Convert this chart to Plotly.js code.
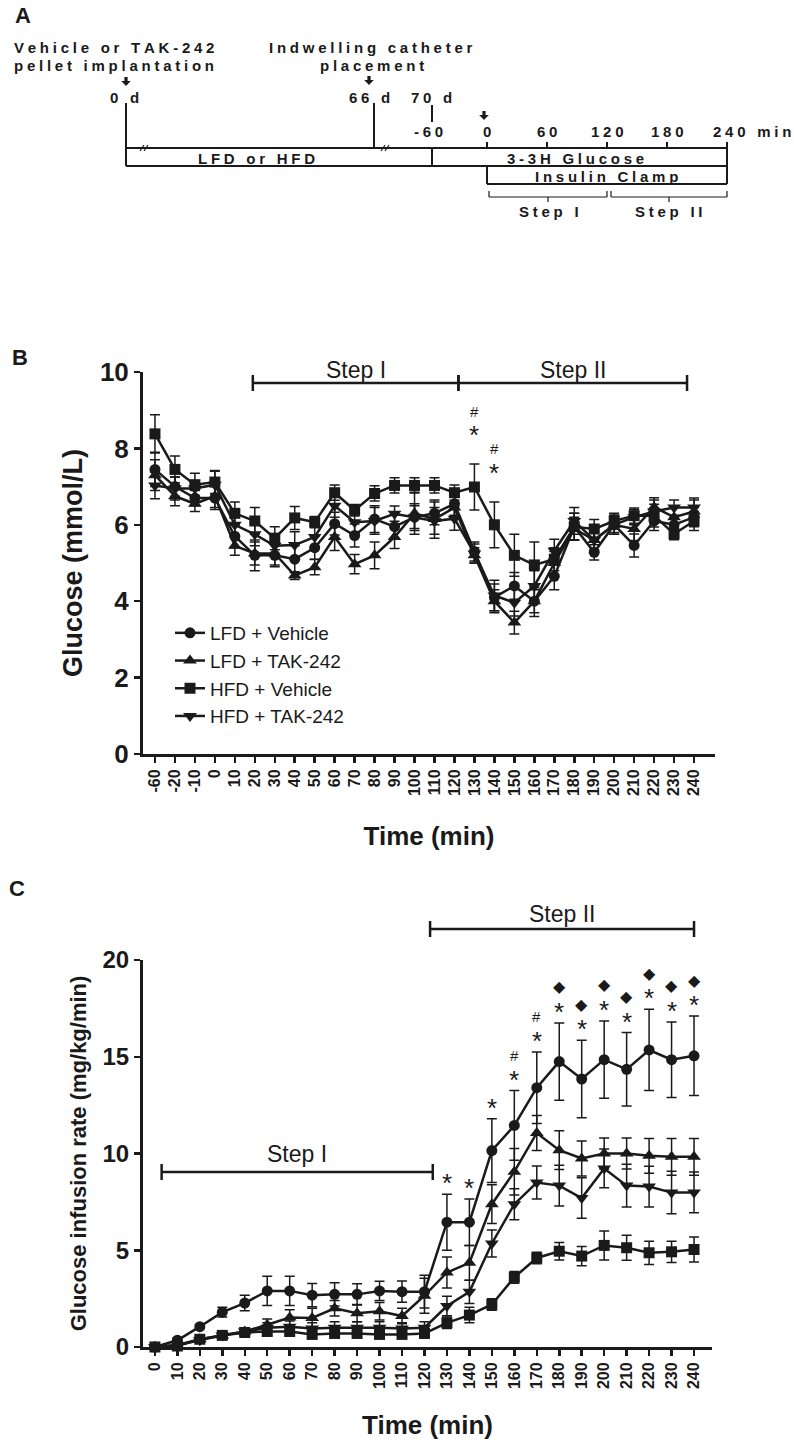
<!DOCTYPE html>
<html>
<head>
<meta charset="utf-8">
<script src="https://cdn.plot.ly/plotly-3.0.1.min.js"></script>
<style>
  body { margin: 0; background: #fff; }
  #chart { width: 794px; height: 1447px; }
</style>
</head>
<body>
<div id="chart"></div>
<script>
const W = 794, H = 1447;

// panel B - glucose (mmol/L)
const timeB = ['-60','-20','-10','0','10','20','30','40','50','60','70','80','90','100','110','120','130','140','150','160','170','180','190','200','210','220','230','240'];
const lfdVehB    = [7.45,7.0,6.7,6.7,5.7,5.2,5.2,5.1,5.4,6.03,5.72,6.15,5.95,6.2,6.3,6.55,5.3,4.1,4.4,4.0,4.65,5.95,5.28,6.0,5.46,6.1,6.0,6.2];
const lfdVehBErr = [0.45,0.25,0.2,0.3,0.3,0.4,0.3,0.35,0.3,0.3,0.3,0.35,0.3,0.35,0.3,0.3,0.25,0.35,0.35,0.4,0.35,0.35,0.2,0.25,0.3,0.25,0.2,0.25];
const lfdTakB    = [7.3,6.75,6.55,6.75,5.45,5.25,5.25,4.67,4.89,5.68,4.97,5.2,5.68,6.3,6.15,6.45,5.2,4.0,3.44,4.0,5.0,5.9,5.6,6.0,5.89,6.46,6.2,6.35];
const lfdTakBErr = [0.4,0.25,0.2,0.3,0.25,0.3,0.3,0.1,0.2,0.35,0.25,0.35,0.3,0.55,0.5,0.3,0.2,0.3,0.3,0.3,0.3,0.3,0.3,0.2,0.3,0.25,0.25,0.3];
const hfdVehB    = [8.38,7.45,7.05,7.12,6.3,6.1,5.65,6.18,6.07,6.84,6.38,6.82,7.03,7.03,7.03,6.84,6.99,6.0,5.2,4.95,5.1,5.95,5.89,6.1,6.24,6.24,5.76,6.1];
const hfdVehBErr = [0.5,0.35,0.3,0.3,0.3,0.35,0.3,0.3,0.15,0.2,0.15,0.2,0.2,0.2,0.2,0.2,0.6,0.6,0.55,0.6,0.3,0.35,0.25,0.2,0.2,0.3,0.15,0.25];
const hfdTakB    = [7.03,6.95,6.95,7.05,6.0,5.75,5.45,5.47,5.68,6.5,6.07,6.1,6.29,6.2,6.1,6.16,5.25,4.15,3.96,4.4,5.32,6.1,5.6,6.0,6.2,6.35,6.45,6.45];
const hfdTakBErr = [0.35,0.3,0.2,0.35,0.35,0.3,0.3,0.35,0.3,0.3,0.3,0.35,0.2,0.3,0.35,0.3,0.25,0.4,0.35,0.4,0.3,0.35,0.25,0.25,0.2,0.3,0.2,0.25];

// panel C - glucose infusion rate (mg/kg/min)
const timeC = ['0','10','20','30','40','50','60','70','80','90','100','110','120','130','140','150','160','170','180','190','200','210','220','230','240'];
const lfdVehC    = [0,0.35,1.05,1.8,2.27,2.9,2.9,2.68,2.72,2.72,2.9,2.86,2.86,6.45,6.45,10.15,11.45,13.4,14.75,13.85,14.85,14.35,15.35,14.85,15.05];
const lfdVehCErr = [0,0.1,0.1,0.25,0.4,0.75,0.75,0.6,0.6,0.55,0.5,0.55,0.85,1.45,1.2,1.65,1.8,1.85,2.0,2.0,2.0,1.9,2.1,1.95,2.05];
const lfdTakC    = [0,0.1,0.4,0.6,0.8,1.15,1.52,1.5,2.0,1.75,1.85,1.6,2.65,3.85,4.35,7.38,9.06,11.06,10.17,9.74,10.0,10.0,9.88,9.83,9.83];
const lfdTakCErr = [0,0.05,0.1,0.15,0.2,0.3,0.4,0.5,0.4,0.45,0.45,0.4,0.9,0.8,0.9,1.0,1.2,0.9,1.0,0.9,0.8,0.8,0.9,0.95,0.95];
const hfdVehC    = [0,0.05,0.4,0.6,0.75,0.8,0.8,0.65,0.7,0.7,0.65,0.65,0.7,1.25,1.65,2.2,3.6,4.6,4.95,4.7,5.25,5.13,4.87,4.92,5.04];
const hfdVehCErr = [0,0.05,0.1,0.1,0.15,0.2,0.2,0.2,0.2,0.2,0.2,0.2,0.2,0.3,0.4,0.3,0.3,0.3,0.45,0.5,0.75,0.65,0.6,0.55,0.65];
const hfdTakC    = [0,0.1,0.35,0.6,0.8,1.0,1.05,0.95,1.0,1.0,1.0,0.95,1.0,2.12,2.85,5.35,7.38,8.5,8.34,7.7,9.23,8.34,8.29,7.98,7.99];
const hfdTakCErr = [0,0.05,0.1,0.15,0.2,0.25,0.3,0.3,0.3,0.3,0.3,0.3,0.3,0.5,0.6,0.7,0.8,0.85,1.05,1.05,1.0,1.1,1.05,1.1,1.05];

// significance marks
const sigB = ['130','140'];
const starC = ['130','140','150','160','170','180','190','200','210','220','230','240'];
const hashC = ['160','170'];
const diamC = ['180','190','200','210','220','230','240'];

const names = ['LFD + Vehicle','LFD + TAK-242','HFD + Vehicle','HFD + TAK-242'];
const symbols = ['circle','triangle-up','square','triangle-down'];
const INK = '#1a1a1a';
const FONT = 'Arial, "Liberation Sans", sans-serif';

const px = x => x / W;
const py = y => 1 - y / H;

function serie(x, y, err, k, xa, ya, legend) {
  return {
    x: x, y: y, type: 'scatter', mode: 'lines+markers',
    name: names[k], showlegend: legend, legendgroup: (legend ? 'b' : 'c') + k,
    xaxis: xa, yaxis: ya, cliponaxis: false,
    line: { color: INK, width: 2.5 },
    marker: { symbol: symbols[k], size: k === 0 || k === 2 ? 11 : 12, color: INK },
    error_y: { type: 'data', array: err, visible: true, color: INK, thickness: 1.5, width: 5 }
  };
}

const traces = [
  serie(timeB, lfdVehB, lfdVehBErr, 0, 'x', 'y', true),
  serie(timeB, lfdTakB, lfdTakBErr, 1, 'x', 'y', true),
  serie(timeB, hfdVehB, hfdVehBErr, 2, 'x', 'y', true),
  serie(timeB, hfdTakB, hfdTakBErr, 3, 'x', 'y', true),
  serie(timeC, lfdVehC, lfdVehCErr, 0, 'x2', 'y2', false),
  serie(timeC, lfdTakC, lfdTakCErr, 1, 'x2', 'y2', false),
  serie(timeC, hfdVehC, hfdVehCErr, 2, 'x2', 'y2', false),
  serie(timeC, hfdTakC, hfdTakCErr, 3, 'x2', 'y2', false)
];

// ---- helpers for the drawn parts ----
function seg(x0, y0, x1, y1, w) {
  return { type: 'line', xref: 'paper', yref: 'paper', x0: px(x0), y0: py(y0), x1: px(x1), y1: py(y1),
           line: { color: INK, width: w || 2 } };
}
function arrow(x, y) {
  const p = [[x-1.6,y],[x+1.6,y],[x+1.6,y+4],[x+4.8,y+4],[x,y+9],[x-4.8,y+4],[x-1.6,y+4]];
  return { type: 'path', xref: 'paper', yref: 'paper', fillcolor: INK, line: { width: 0 },
           path: 'M' + p.map(q => px(q[0]) + ',' + py(q[1])).join('L') + 'Z' };
}
function txt(x, y, text, size, bold, anchor) {
  return { xref: 'paper', yref: 'paper', x: px(x), y: py(y), text: text, showarrow: false,
           xanchor: anchor || 'center', yanchor: 'middle',
           font: { family: FONT, size: size, color: INK, weight: bold ? 'bold' : 'normal' } };
}
const spaced = s => s.split('').join('\u2005');

// step bars: x in category index, y in pixels
function stepBar(xa, a, b, ypx, cap) {
  const out = [];
  out.push({ type: 'line', xref: xa, yref: 'paper', x0: a, x1: b, y0: py(ypx), y1: py(ypx), line: { color: INK, width: 2.5 } });
  [a, b].forEach(v => out.push({ type: 'line', xref: xa, yref: 'paper', x0: v, x1: v,
    y0: py(ypx - cap), y1: py(ypx + cap), line: { color: INK, width: 2.5 } }));
  return out;
}
function stepText(xa, a, b, ypx, text) {
  return { xref: xa, yref: 'paper', x: (a + b) / 2, y: py(ypx), text: text, showarrow: false,
           yanchor: 'middle', font: { family: FONT, size: 23, color: INK } };
}

// ---- panel A timeline ----
const shapes = [];
const notes = [];
const AF = 15;
notes.push(txt(23, 16, 'A', 22, true));
notes.push(txt(114, 48, spaced('Vehicle or TAK-242'), AF, true));
notes.push(txt(114, 66, spaced('pellet implantation'), AF, true));
notes.push(txt(371, 48, spaced('Indwelling catheter'), AF, true));
notes.push(txt(372, 66, spaced('placement'), AF, true));
shapes.push(arrow(126, 77), arrow(369, 76), arrow(484, 111));
notes.push(txt(124, 97, spaced('0 d'), AF, true));
notes.push(txt(369, 97, spaced('66 d'), AF, true));
notes.push(txt(431, 97, spaced('70 d'), AF, true));
shapes.push(seg(126, 103, 126, 166), seg(374, 103, 374, 148), seg(432, 105, 432, 122));
shapes.push(seg(126, 148, 727, 148), seg(126, 166, 727, 166), seg(432, 148, 432, 166));
shapes.push(seg(727, 148, 727, 184), seg(487, 166, 487, 184), seg(487, 184, 727, 184));
[487, 547, 607, 667, 727].forEach(x => shapes.push(seg(x, 142, x, 148)));
[144, 385].forEach(x => { shapes.push(seg(x - 4, 151, x, 145, 1.2), seg(x, 151, x + 4, 145, 1.2)); });
notes.push(txt(428, 132, spaced('-60'), AF, true));
notes.push(txt(487, 132, '0', AF, true));
notes.push(txt(547, 132, spaced('60'), AF, true));
notes.push(txt(607, 132, spaced('120'), AF, true));
notes.push(txt(667, 132, spaced('180'), AF, true));
notes.push(txt(711, 132, spaced('240 min'), AF, true, 'left'));
notes.push(txt(256, 158, spaced('LFD or HFD'), AF, true));
notes.push(txt(575, 158, spaced('3-3H Glucose'), AF, true));
notes.push(txt(606, 176, spaced('Insulin Clamp'), AF, true));
[[489, 607, 548], [611, 727, 669]].forEach(b => {
  shapes.push(seg(b[0], 197, b[1], 197, 1.2), seg(b[0], 191, b[0], 197, 1.2), seg(b[1], 191, b[1], 197, 1.2),
              seg(b[2], 197, b[2], 202, 1.2));
});
notes.push(txt(549, 212, spaced('Step I'), AF, true));
notes.push(txt(669, 212, spaced('Step II'), AF, true));

// ---- panel labels ----
notes.push(txt(20, 357, 'B', 22, true));
notes.push(txt(17, 888, 'C', 22, true));

// ---- step bars B and C ----
shapes.push(...stepBar('x', 4.9, 15.2, 383, 8), ...stepBar('x', 15.2, 26.65, 383, 8));
notes.push(stepText('x', 4.9, 15.2, 370, 'Step I'), stepText('x', 15.2, 26.65, 370, 'Step II'));
shapes.push(...stepBar('x2', 0.3, 12.37, 1172, 8), ...stepBar('x2', 12.25, 24.0, 929, 8));
notes.push(stepText('x2', 0.3, 12.37, 1154, 'Step I'), stepText('x2', 12.25, 24.0, 914, 'Step II'));

// ---- significance marks (x = category index) ----
function mark(xa, ya, i, y, shift, text, size) {
  return { xref: xa, yref: ya, x: i, y: y, yshift: shift, text: text, showarrow: false,
           yanchor: 'middle', font: { family: FONT, size: size, color: INK } };
}
sigB.forEach(c => {
  const i = timeB.indexOf(c);
  const top = hfdVehB[i] + hfdVehBErr[i];
  notes.push(mark('x', 'y', i, top, 29, '*', 26), mark('x', 'y', i, top, 53, '#', 15));
});
starC.forEach(c => {
  const i = timeC.indexOf(c);
  const top = lfdVehC[i] + lfdVehCErr[i];
  notes.push(mark('x2', 'y2', i, top, 11, '*', 26));
  if (hashC.includes(c)) notes.push(mark('x2', 'y2', i, top, 35, '#', 15));
  if (diamC.includes(c)) notes.push(mark('x2', 'y2', i, top, 36, '\u25C6', 16));
});

const axisX = {
  type: 'category', showline: true, linecolor: INK, linewidth: 3, mirror: false,
  ticks: 'outside', ticklen: 6, tickwidth: 2.5, tickcolor: INK,
  tickmode: 'linear', tick0: 0, dtick: 1, tickangle: -90,
  tickfont: { family: FONT, size: 16, color: INK, weight: 'bold' },
  showgrid: false, zeroline: false
};
const axisY = {
  showline: true, linecolor: INK, linewidth: 3, ticks: 'outside', ticklen: 6, tickwidth: 2.5, tickcolor: INK,
  showgrid: false, zeroline: false
};

const layout = {
  width: W, height: H,
  margin: { l: 0, r: 0, t: 0, b: 0 },
  paper_bgcolor: '#fff', plot_bgcolor: '#fff',
  showlegend: true,
  legend: { x: px(170), y: py(614), xanchor: 'left', yanchor: 'top', bgcolor: 'rgba(0,0,0,0)',
            font: { family: FONT, size: 19, color: INK }, tracegroupgap: 0 },
  xaxis: Object.assign({}, axisX, {
    domain: [px(143), px(715)], range: [-0.6, 28.05], anchor: 'y',
    title: { text: 'Time (min)', font: { family: FONT, size: 26, color: INK, weight: 'bold' }, standoff: 32 }
  }),
  yaxis: Object.assign({}, axisY, {
    domain: [py(754), py(372)], range: [0, 10], dtick: 2, anchor: 'x',
    tickfont: { family: FONT, size: 26, color: INK, weight: 'bold' },
    title: { text: 'Glucose (mmol/L)', font: { family: FONT, size: 27, color: INK, weight: 'bold' }, standoff: 10 }
  }),
  xaxis2: Object.assign({}, axisX, {
    domain: [px(143), px(712)], range: [-0.53, 24.8], anchor: 'y2',
    title: { text: 'Time (min)', font: { family: FONT, size: 26, color: INK, weight: 'bold' }, standoff: 28 }
  }),
  yaxis2: Object.assign({}, axisY, {
    domain: [py(1347), py(960)], range: [0, 20], dtick: 5, anchor: 'x2',
    tickfont: { family: FONT, size: 24, color: INK, weight: 'bold' },
    title: { text: 'Glucose infusion rate (mg/kg/min)', font: { family: FONT, size: 22, color: INK, weight: 'bold' }, standoff: 10 }
  }),
  shapes: shapes,
  annotations: notes,
  hovermode: false
};

Plotly.newPlot('chart', traces, layout, { staticPlot: true, displayModeBar: false });
</script>
</body>
</html>
